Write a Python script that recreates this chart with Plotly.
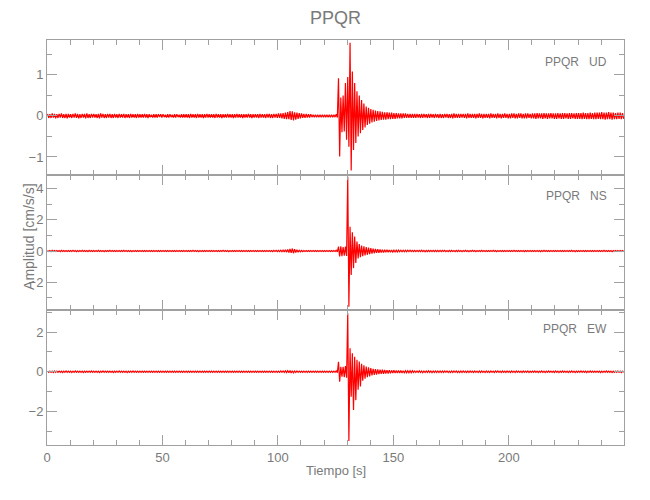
import plotly.graph_objects as go
from plotly.subplots import make_subplots

# Per-second envelope (max / min) of each component, t = 0..249 s
UD_UP = [
    0.05, 0.04, 0.06, 0.05, 0.04, 0.05, 0.06, 0.04, 0.05, 0.05,
    0.04, 0.05, 0.06, 0.05, 0.04, 0.05, 0.05, 0.06, 0.04, 0.05,
    0.05, 0.04, 0.05, 0.06, 0.05, 0.04, 0.05, 0.05, 0.04, 0.05,
    0.04, 0.05, 0.04, 0.05, 0.04, 0.04, 0.05, 0.04, 0.04, 0.05,
    0.04, 0.04, 0.05, 0.04, 0.04, 0.03, 0.04, 0.04, 0.04, 0.04,
    0.04, 0.03, 0.04, 0.04, 0.03, 0.04, 0.04, 0.03, 0.04, 0.04,
    0.04, 0.04, 0.05, 0.04, 0.04, 0.05, 0.04, 0.04, 0.04, 0.05,
    0.04, 0.04, 0.04, 0.05, 0.04, 0.04, 0.04, 0.04, 0.05, 0.04,
    0.04, 0.04, 0.05, 0.04, 0.04, 0.04, 0.04, 0.05, 0.04, 0.04,
    0.04, 0.04, 0.05, 0.04, 0.04, 0.05, 0.05, 0.04, 0.05, 0.05,
    0.06, 0.06, 0.07, 0.08, 0.09, 0.12, 0.11, 0.09, 0.08, 0.07,
    0.06, 0.05, 0.05, 0.04, 0.04, 0.03, 0.03, 0.03, 0.03, 0.03,
    0.03, 0.03, 0.03, 0.03, 0.03, 0.04, 0.92, 0.45, 0.50, 0.80,
    0.95, 1.78, 1.08, 0.80, 0.60, 0.50, 0.39, 0.30, 0.23, 0.20,
    0.17, 0.15, 0.13, 0.12, 0.11, 0.10, 0.09, 0.09, 0.08, 0.08,
    0.07, 0.07, 0.06, 0.06, 0.06, 0.06, 0.05, 0.05, 0.05, 0.05,
    0.05, 0.04, 0.05, 0.05, 0.04, 0.05, 0.05, 0.04, 0.05, 0.04,
    0.05, 0.04, 0.05, 0.05, 0.04, 0.05, 0.06, 0.05, 0.05, 0.05,
    0.05, 0.05, 0.06, 0.05, 0.05, 0.05, 0.05, 0.06, 0.05, 0.05,
    0.05, 0.05, 0.06, 0.05, 0.05, 0.06, 0.05, 0.05, 0.06, 0.05,
    0.05, 0.06, 0.06, 0.05, 0.06, 0.06, 0.05, 0.06, 0.06, 0.05,
    0.06, 0.06, 0.07, 0.06, 0.06, 0.07, 0.06, 0.06, 0.07, 0.06,
    0.06, 0.07, 0.06, 0.07, 0.07, 0.06, 0.07, 0.07, 0.06, 0.07,
    0.07, 0.07, 0.08, 0.07, 0.07, 0.08, 0.07, 0.08, 0.08, 0.08,
    0.09, 0.08, 0.08, 0.09, 0.08, 0.08, 0.07, 0.08, 0.08, 0.07,
]
UD_LO = [
    -0.05, -0.05, -0.04, -0.06, -0.05, -0.04, -0.05, -0.05, -0.06, -0.04,
    -0.05, -0.04, -0.05, -0.06, -0.05, -0.04, -0.06, -0.05, -0.05, -0.04,
    -0.04, -0.05, -0.06, -0.04, -0.05, -0.05, -0.04, -0.05, -0.05, -0.04,
    -0.05, -0.04, -0.04, -0.05, -0.04, -0.05, -0.04, -0.04, -0.05, -0.04,
    -0.04, -0.04, -0.04, -0.05, -0.03, -0.04, -0.04, -0.04, -0.03, -0.04,
    -0.03, -0.04, -0.04, -0.03, -0.04, -0.04, -0.03, -0.04, -0.04, -0.04,
    -0.04, -0.05, -0.04, -0.04, -0.05, -0.04, -0.04, -0.05, -0.04, -0.04,
    -0.04, -0.04, -0.05, -0.04, -0.04, -0.05, -0.04, -0.04, -0.04, -0.04,
    -0.05, -0.04, -0.04, -0.04, -0.05, -0.04, -0.04, -0.04, -0.05, -0.04,
    -0.04, -0.05, -0.04, -0.04, -0.05, -0.04, -0.05, -0.05, -0.04, -0.05,
    -0.05, -0.06, -0.07, -0.08, -0.08, -0.10, -0.11, -0.09, -0.07, -0.06,
    -0.05, -0.05, -0.04, -0.04, -0.03, -0.03, -0.03, -0.03, -0.03, -0.03,
    -0.03, -0.03, -0.03, -0.03, -0.03, -0.04, -0.99, -0.40, -0.38, -0.58,
    -0.75, -1.33, -0.83, -0.66, -0.50, -0.42, -0.34, -0.28, -0.22, -0.19,
    -0.16, -0.14, -0.12, -0.11, -0.10, -0.09, -0.09, -0.08, -0.08, -0.07,
    -0.07, -0.06, -0.06, -0.06, -0.05, -0.05, -0.05, -0.05, -0.05, -0.05,
    -0.04, -0.05, -0.05, -0.04, -0.05, -0.05, -0.04, -0.05, -0.04, -0.05,
    -0.05, -0.05, -0.04, -0.05, -0.05, -0.06, -0.05, -0.05, -0.05, -0.04,
    -0.05, -0.06, -0.05, -0.05, -0.05, -0.06, -0.05, -0.05, -0.06, -0.05,
    -0.05, -0.06, -0.05, -0.05, -0.06, -0.05, -0.06, -0.05, -0.05, -0.06,
    -0.06, -0.05, -0.06, -0.06, -0.05, -0.06, -0.06, -0.06, -0.05, -0.06,
    -0.06, -0.07, -0.06, -0.06, -0.07, -0.06, -0.07, -0.06, -0.06, -0.07,
    -0.07, -0.06, -0.07, -0.07, -0.06, -0.07, -0.07, -0.06, -0.07, -0.07,
    -0.07, -0.08, -0.07, -0.08, -0.08, -0.07, -0.08, -0.08, -0.07, -0.08,
    -0.08, -0.09, -0.08, -0.08, -0.09, -0.08, -0.08, -0.07, -0.08, -0.07,
]
NS_UP = [
    0.03, 0.03, 0.04, 0.03, 0.03, 0.03, 0.04, 0.03, 0.03, 0.03,
    0.03, 0.04, 0.03, 0.03, 0.03, 0.04, 0.03, 0.03, 0.04, 0.03,
    0.03, 0.03, 0.04, 0.03, 0.03, 0.03, 0.03, 0.04, 0.03, 0.03,
    0.03, 0.03, 0.03, 0.04, 0.03, 0.03, 0.03, 0.03, 0.03, 0.03,
    0.03, 0.03, 0.03, 0.03, 0.03, 0.03, 0.03, 0.03, 0.03, 0.03,
    0.03, 0.03, 0.03, 0.03, 0.03, 0.03, 0.03, 0.03, 0.03, 0.03,
    0.03, 0.03, 0.03, 0.04, 0.03, 0.03, 0.03, 0.03, 0.03, 0.03,
    0.03, 0.03, 0.03, 0.03, 0.03, 0.03, 0.04, 0.03, 0.03, 0.03,
    0.03, 0.03, 0.03, 0.03, 0.03, 0.03, 0.03, 0.03, 0.03, 0.03,
    0.03, 0.03, 0.03, 0.03, 0.03, 0.03, 0.03, 0.03, 0.04, 0.04,
    0.04, 0.05, 0.06, 0.08, 0.10, 0.14, 0.16, 0.12, 0.08, 0.05,
    0.04, 0.03, 0.03, 0.03, 0.03, 0.03, 0.03, 0.03, 0.03, 0.03,
    0.03, 0.03, 0.03, 0.03, 0.03, 0.05, 0.28, 0.30, 0.26, 0.28,
    4.75, 1.55, 1.20, 0.92, 0.60, 0.45, 0.35, 0.30, 0.25, 0.22,
    0.18, 0.15, 0.13, 0.12, 0.10, 0.09, 0.08, 0.08, 0.07, 0.07,
    0.06, 0.06, 0.06, 0.05, 0.05, 0.05, 0.05, 0.05, 0.04, 0.04,
    0.04, 0.04, 0.05, 0.04, 0.04, 0.04, 0.04, 0.04, 0.04, 0.04,
    0.04, 0.04, 0.04, 0.03, 0.04, 0.04, 0.03, 0.04, 0.04, 0.03,
    0.03, 0.04, 0.03, 0.03, 0.04, 0.03, 0.03, 0.03, 0.04, 0.03,
    0.03, 0.03, 0.03, 0.04, 0.03, 0.03, 0.03, 0.03, 0.03, 0.03,
    0.03, 0.03, 0.04, 0.03, 0.03, 0.03, 0.03, 0.03, 0.03, 0.03,
    0.03, 0.03, 0.03, 0.03, 0.03, 0.04, 0.03, 0.03, 0.03, 0.03,
    0.03, 0.03, 0.03, 0.03, 0.03, 0.03, 0.03, 0.04, 0.03, 0.03,
    0.03, 0.03, 0.03, 0.03, 0.03, 0.03, 0.03, 0.03, 0.03, 0.03,
    0.03, 0.04, 0.03, 0.03, 0.03, 0.03, 0.03, 0.03, 0.03, 0.03,
]
NS_LO = [
    -0.03, -0.04, -0.03, -0.03, -0.03, -0.04, -0.03, -0.03, -0.03, -0.03,
    -0.03, -0.03, -0.04, -0.03, -0.03, -0.03, -0.03, -0.04, -0.03, -0.03,
    -0.03, -0.03, -0.03, -0.03, -0.04, -0.03, -0.03, -0.03, -0.03, -0.03,
    -0.03, -0.03, -0.03, -0.03, -0.03, -0.03, -0.04, -0.03, -0.03, -0.03,
    -0.03, -0.03, -0.03, -0.03, -0.03, -0.03, -0.03, -0.03, -0.03, -0.03,
    -0.03, -0.03, -0.03, -0.03, -0.03, -0.03, -0.03, -0.03, -0.03, -0.03,
    -0.03, -0.03, -0.03, -0.03, -0.03, -0.04, -0.03, -0.03, -0.03, -0.03,
    -0.03, -0.03, -0.03, -0.03, -0.03, -0.03, -0.03, -0.03, -0.04, -0.03,
    -0.03, -0.03, -0.03, -0.03, -0.03, -0.03, -0.03, -0.03, -0.03, -0.03,
    -0.03, -0.03, -0.03, -0.03, -0.03, -0.03, -0.03, -0.04, -0.03, -0.04,
    -0.04, -0.05, -0.06, -0.07, -0.10, -0.12, -0.14, -0.10, -0.07, -0.05,
    -0.04, -0.03, -0.03, -0.03, -0.03, -0.03, -0.03, -0.03, -0.03, -0.03,
    -0.03, -0.03, -0.03, -0.03, -0.03, -0.05, -0.35, -0.33, -0.30, -0.32,
    -3.56, -1.53, -1.10, -0.77, -0.47, -0.40, -0.33, -0.28, -0.24, -0.20,
    -0.17, -0.14, -0.12, -0.11, -0.10, -0.09, -0.08, -0.07, -0.07, -0.06,
    -0.06, -0.06, -0.05, -0.05, -0.05, -0.05, -0.04, -0.04, -0.04, -0.04,
    -0.04, -0.04, -0.04, -0.05, -0.04, -0.04, -0.04, -0.04, -0.04, -0.04,
    -0.04, -0.03, -0.04, -0.04, -0.04, -0.03, -0.04, -0.04, -0.03, -0.04,
    -0.03, -0.03, -0.04, -0.03, -0.03, -0.04, -0.03, -0.03, -0.03, -0.03,
    -0.03, -0.03, -0.03, -0.03, -0.04, -0.03, -0.03, -0.03, -0.03, -0.03,
    -0.03, -0.03, -0.03, -0.03, -0.03, -0.03, -0.04, -0.03, -0.03, -0.03,
    -0.03, -0.03, -0.03, -0.04, -0.03, -0.03, -0.03, -0.03, -0.03, -0.03,
    -0.03, -0.03, -0.03, -0.03, -0.03, -0.03, -0.03, -0.03, -0.04, -0.03,
    -0.03, -0.03, -0.03, -0.03, -0.03, -0.03, -0.03, -0.03, -0.03, -0.03,
    -0.03, -0.03, -0.03, -0.03, -0.04, -0.03, -0.03, -0.03, -0.03, -0.03,
]
EW_UP = [
    0.03, 0.03, 0.03, 0.04, 0.03, 0.03, 0.03, 0.03, 0.04, 0.03,
    0.03, 0.03, 0.04, 0.03, 0.03, 0.03, 0.03, 0.03, 0.03, 0.04,
    0.03, 0.03, 0.03, 0.03, 0.04, 0.03, 0.03, 0.03, 0.03, 0.03,
    0.03, 0.04, 0.03, 0.03, 0.03, 0.03, 0.03, 0.04, 0.03, 0.03,
    0.03, 0.03, 0.03, 0.03, 0.03, 0.03, 0.03, 0.03, 0.03, 0.03,
    0.03, 0.03, 0.03, 0.03, 0.03, 0.03, 0.03, 0.03, 0.03, 0.03,
    0.03, 0.03, 0.03, 0.03, 0.03, 0.03, 0.03, 0.03, 0.03, 0.03,
    0.03, 0.03, 0.03, 0.03, 0.03, 0.03, 0.03, 0.03, 0.03, 0.03,
    0.03, 0.03, 0.03, 0.03, 0.03, 0.03, 0.03, 0.03, 0.03, 0.03,
    0.03, 0.03, 0.03, 0.03, 0.03, 0.03, 0.03, 0.03, 0.03, 0.03,
    0.03, 0.04, 0.04, 0.05, 0.05, 0.06, 0.05, 0.04, 0.04, 0.03,
    0.03, 0.03, 0.03, 0.03, 0.03, 0.03, 0.03, 0.03, 0.03, 0.03,
    0.03, 0.03, 0.03, 0.03, 0.03, 0.05, 0.50, 0.25, 0.25, 0.28,
    2.94, 1.18, 0.93, 0.75, 0.60, 0.52, 0.40, 0.32, 0.26, 0.22,
    0.18, 0.15, 0.13, 0.12, 0.11, 0.10, 0.09, 0.08, 0.08, 0.07,
    0.07, 0.06, 0.06, 0.06, 0.05, 0.05, 0.05, 0.05, 0.05, 0.04,
    0.04, 0.05, 0.04, 0.04, 0.04, 0.05, 0.04, 0.04, 0.04, 0.04,
    0.04, 0.04, 0.04, 0.04, 0.03, 0.04, 0.04, 0.04, 0.03, 0.04,
    0.04, 0.03, 0.04, 0.04, 0.03, 0.04, 0.03, 0.04, 0.04, 0.03,
    0.04, 0.03, 0.04, 0.03, 0.04, 0.04, 0.03, 0.04, 0.03, 0.04,
    0.03, 0.04, 0.03, 0.04, 0.03, 0.03, 0.04, 0.03, 0.04, 0.03,
    0.03, 0.04, 0.03, 0.03, 0.04, 0.03, 0.03, 0.04, 0.03, 0.03,
    0.04, 0.03, 0.03, 0.04, 0.03, 0.03, 0.03, 0.04, 0.03, 0.03,
    0.03, 0.04, 0.03, 0.03, 0.03, 0.04, 0.03, 0.03, 0.03, 0.03,
    0.03, 0.03, 0.04, 0.03, 0.03, 0.03, 0.03, 0.04, 0.03, 0.03,
]
EW_LO = [
    -0.03, -0.03, -0.04, -0.03, -0.03, -0.03, -0.04, -0.03, -0.03, -0.03,
    -0.04, -0.03, -0.03, -0.03, -0.03, -0.04, -0.03, -0.03, -0.03, -0.03,
    -0.03, -0.03, -0.04, -0.03, -0.03, -0.03, -0.03, -0.03, -0.04, -0.03,
    -0.03, -0.03, -0.03, -0.03, -0.04, -0.03, -0.03, -0.03, -0.03, -0.03,
    -0.03, -0.03, -0.03, -0.03, -0.03, -0.03, -0.03, -0.03, -0.03, -0.03,
    -0.03, -0.03, -0.03, -0.03, -0.03, -0.03, -0.03, -0.03, -0.03, -0.03,
    -0.03, -0.03, -0.03, -0.03, -0.03, -0.03, -0.03, -0.03, -0.03, -0.03,
    -0.03, -0.03, -0.03, -0.03, -0.03, -0.03, -0.03, -0.03, -0.03, -0.03,
    -0.03, -0.03, -0.03, -0.03, -0.03, -0.03, -0.03, -0.03, -0.03, -0.03,
    -0.03, -0.03, -0.03, -0.03, -0.03, -0.03, -0.03, -0.03, -0.03, -0.03,
    -0.03, -0.03, -0.04, -0.04, -0.05, -0.06, -0.05, -0.04, -0.03, -0.03,
    -0.03, -0.03, -0.03, -0.03, -0.03, -0.03, -0.03, -0.03, -0.03, -0.03,
    -0.03, -0.03, -0.03, -0.03, -0.03, -0.05, -0.50, -0.25, -0.27, -0.30,
    -3.49, -1.26, -1.93, -1.43, -0.90, -0.74, -0.45, -0.35, -0.28, -0.23,
    -0.19, -0.16, -0.14, -0.12, -0.11, -0.10, -0.09, -0.09, -0.08, -0.07,
    -0.07, -0.06, -0.06, -0.06, -0.05, -0.05, -0.05, -0.05, -0.04, -0.04,
    -0.04, -0.04, -0.05, -0.04, -0.04, -0.04, -0.05, -0.04, -0.04, -0.04,
    -0.04, -0.04, -0.03, -0.04, -0.04, -0.04, -0.03, -0.04, -0.04, -0.04,
    -0.03, -0.04, -0.04, -0.03, -0.04, -0.03, -0.04, -0.04, -0.03, -0.04,
    -0.03, -0.04, -0.03, -0.04, -0.03, -0.03, -0.04, -0.03, -0.04, -0.03,
    -0.04, -0.03, -0.04, -0.03, -0.03, -0.04, -0.03, -0.03, -0.04, -0.03,
    -0.03, -0.03, -0.04, -0.03, -0.03, -0.04, -0.03, -0.03, -0.03, -0.04,
    -0.03, -0.04, -0.03, -0.03, -0.03, -0.04, -0.03, -0.03, -0.04, -0.03,
    -0.03, -0.03, -0.03, -0.04, -0.03, -0.03, -0.03, -0.03, -0.03, -0.04,
    -0.03, -0.03, -0.03, -0.03, -0.04, -0.03, -0.03, -0.03, -0.04, -0.03,
]

COMPONENTS = ["UD", "NS", "EW"]
STATION = "PPQR"
Y_RANGES = [[-1.44, 1.85], [-3.77, 4.86], [-3.69, 3.11]]
Y_DTICK = [1, 2, 2]
X_RANGE = [0, 249.9]
TITLE = "PPQR"
X_TITLE = "Tiempo [s]"
Y_TITLE = "Amplitud [cm/s/s]"

FONT = "Liberation Sans, Arial, sans-serif"
TXT = "#7a7a7a"
AX = "#a0a0a0"


def trace_xy(up, lo):
    xs, ys = [], []
    for i, (u, l) in enumerate(zip(up, lo)):
        xs += [i + 0.25, i + 0.75]
        ys += [u, l]
    return xs, ys


fig = make_subplots(rows=3, cols=1, shared_xaxes=True, vertical_spacing=0)

for r, (up, lo) in enumerate([(UD_UP, UD_LO), (NS_UP, NS_LO), (EW_UP, EW_LO)], start=1):
    xs, ys = trace_xy(up, lo)
    fig.add_trace(go.Scatter(x=xs, y=ys, mode="lines",
                             line=dict(color="#ff0000", width=1.2),
                             showlegend=False, hoverinfo="skip"), row=r, col=1)

common = dict(showline=True, linecolor=AX, linewidth=1, mirror="ticks",
              ticks="inside", ticklen=10, tickcolor=AX, tickwidth=1,
              showgrid=False, zeroline=False, automargin=False,
              tickfont=dict(family=FONT, size=13, color=TXT))

for r in range(1, 4):
    fig.update_xaxes(range=X_RANGE, dtick=50, tick0=0,
                     minor=dict(dtick=10, ticks="inside", ticklen=5, tickcolor=AX, showgrid=False),
                     row=r, col=1, **common)
    fig.update_yaxes(range=Y_RANGES[r - 1], dtick=Y_DTICK[r - 1], tick0=0,
                     minor=dict(dtick=Y_DTICK[r - 1] / 2, ticks="inside", ticklen=5,
                                tickcolor=AX, showgrid=False),
                     row=r, col=1, **common)

ann_y = [0.946, 0.615, 0.286]
annotations = []
for comp, yy in zip(COMPONENTS, ann_y):
    annotations.append(dict(text=STATION + "\u00a0\u00a0\u00a0" + comp,
                            xref="paper", yref="paper", x=0.974, y=yy,
                            xanchor="right", yanchor="middle", showarrow=False,
                            font=dict(family=FONT, size=12, color=TXT)))
annotations.append(dict(text=TITLE, xref="paper", yref="paper", x=0.5, y=1.054,
                        xanchor="center", yanchor="middle", showarrow=False,
                        font=dict(family=FONT, size=18, color=TXT)))
annotations.append(dict(text=X_TITLE, xref="paper", yref="paper", x=0.5, y=-0.062,
                        xanchor="center", yanchor="middle", showarrow=False,
                        font=dict(family=FONT, size=13, color=TXT)))
annotations.append(dict(text=Y_TITLE, xref="paper", yref="paper", x=-0.031, y=0.514,
                        xanchor="center", yanchor="middle", textangle=-90, showarrow=False,
                        font=dict(family=FONT, size=14, color=TXT)))

fig.update_layout(width=642, height=492, margin=dict(l=39, r=26, t=32, b=55),
                  paper_bgcolor="white", plot_bgcolor="white",
                  annotations=annotations, showlegend=False)

fig.write_html("out.html")
